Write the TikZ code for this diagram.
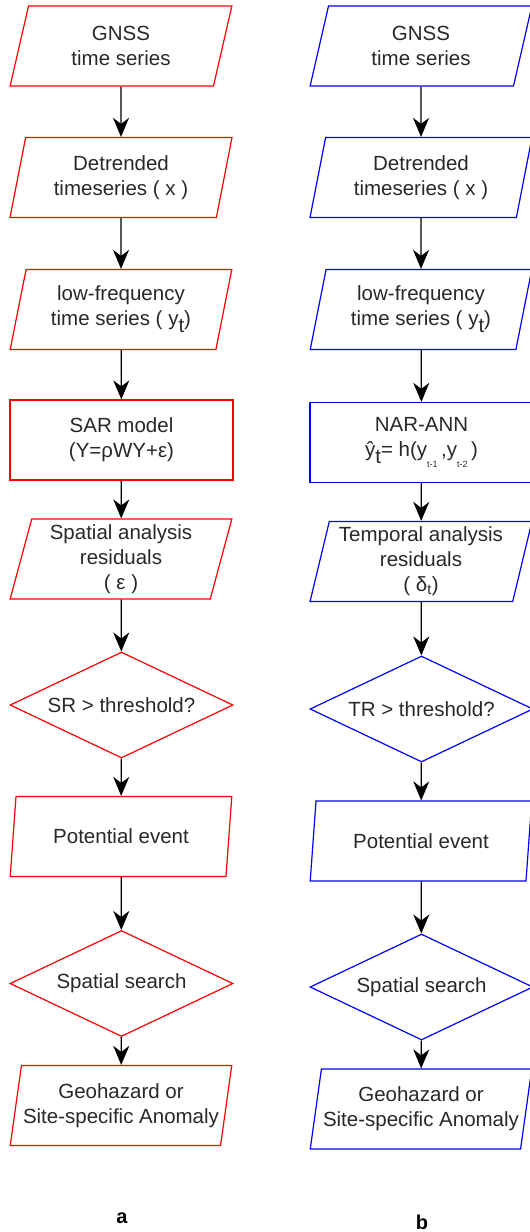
\documentclass[tikz,border=0pt]{standalone}
\usepackage{fontspec}
\setmainfont{Liberation Sans}
\definecolor{flowred}{RGB}{255,0,0}
\definecolor{flowblue}{RGB}{0,0,255}
\definecolor{textgrey}{RGB}{40,40,40}
\usetikzlibrary{shapes.geometric,arrows.meta}
\newcommand{\lowsub}[1]{\raisebox{-7pt}{#1}}
\newcommand{\tinysub}[1]{\raisebox{-11pt}{\fontsize{9}{9}\selectfont #1}}

\begin{document}
\begin{tikzpicture}[x=1pt,y=-1pt,font=\fontsize{20.5}{25}\selectfont]

%
% Styles
%
\tikzstyle{inout}    = [trapezium,trapezium left angle=76,trapezium right angle=104,trapezium stretches=true,minimum width=222pt,minimum height=80pt,inner sep=0pt,draw,line width=1.2pt,align=center,text=textgrey]
\tikzstyle{process}  = [rectangle,minimum width=223pt,minimum height=80pt,inner sep=0pt,draw,line width=1.2pt,align=center,text=textgrey]
\tikzstyle{decision} = [diamond,aspect=2.1,minimum width=223pt,minimum height=106pt,inner sep=0pt,draw,line width=1.2pt,align=center,text=textgrey]
\tikzstyle{flow}     = [-{Stealth[length=19pt,width=16pt,inset=6pt]},line width=1.3pt,draw=black]
\tikzstyle{caption}  = [font=\fontsize{20}{20}\selectfont\bfseries]

\useasboundingbox (0,0) rectangle (530,1232);

% spatial chain
\node[inout,draw=flowred]    (sgnss)  at (121,46)    {GNSS\\time series};
\node[inout,draw=flowred]    (sdetr)  at (121,177.5) {Detrended\\timeseries ( x )};
\node[inout,draw=flowred]    (slow)   at (121,309.5) {low-frequency\\time series ( y\lowsub{t})};
\node[process,draw=flowred]  (ssar)   at (121.5,440) {SAR model\\(Y=ρWY+ε)};
\node[inout,draw=flowred]    (sres)   at (121,559)   {Spatial analysis\\residuals\\( ε )};
\node[decision,draw=flowred] (sthr)   at (121.5,705) {SR > threshold?};
\node[inout,draw=flowred]    (sevent) at (121,836.5) {Potential event};
\node[decision,draw=flowred] (ssearch) at (121.5,983.5) {Spatial search};
\node[inout,draw=flowred]    (sgeo)   at (121,1105.5) {Geohazard or\\Site-specific Anomaly};
\node[caption] (capa) at (122,1218) {a};

% temporal chain
\node[inout,draw=flowblue]    (tgnss)  at (421,46)    {GNSS\\time series};
\node[inout,draw=flowblue]    (tdetr)  at (421,177.5) {Detrended\\timeseries ( x )};
\node[inout,draw=flowblue]    (tlow)   at (421,309.5) {low-frequency\\time series ( y\lowsub{t})};
\node[process,draw=flowblue]  (tnar)   at (421.5,442.5) {NAR-ANN\\ŷ\lowsub{t}= h(y\tinysub{t-1}\,,y\tinysub{t-2}\,)};
\node[inout,draw=flowblue]    (tres)   at (421,561.5) {Temporal analysis\\residuals\\( δ\textsubscript{t})};
\node[decision,draw=flowblue] (tthr)   at (421.5,709) {TR > threshold?};
\node[inout,draw=flowblue]    (tevent) at (421,841)   {Potential event};
\node[decision,draw=flowblue] (tsearch) at (421.5,987) {Spatial search};
\node[inout,draw=flowblue]    (tgeo)   at (421,1109)  {Geohazard or\\Site-specific Anomaly};
\node[caption] (capb) at (422,1222) {b};

\draw[flow] (sgnss) -- (sdetr);
\draw[flow] (sdetr) -- (slow);
\draw[flow] (slow) -- (ssar);
\draw[flow] (ssar) -- (sres);
\draw[flow] (sres) -- (sthr);
\draw[flow] (sthr) -- (sevent);
\draw[flow] (sevent) -- (ssearch);
\draw[flow] (ssearch) -- (sgeo);

\draw[flow] (tgnss) -- (tdetr);
\draw[flow] (tdetr) -- (tlow);
\draw[flow] (tlow) -- (tnar);
\draw[flow] (tnar) -- (tres);
\draw[flow] (tres) -- (tthr);
\draw[flow] (tthr) -- (tevent);
\draw[flow] (tevent) -- (tsearch);
\draw[flow] (tsearch) -- (tgeo);

\end{tikzpicture}
\end{document}
